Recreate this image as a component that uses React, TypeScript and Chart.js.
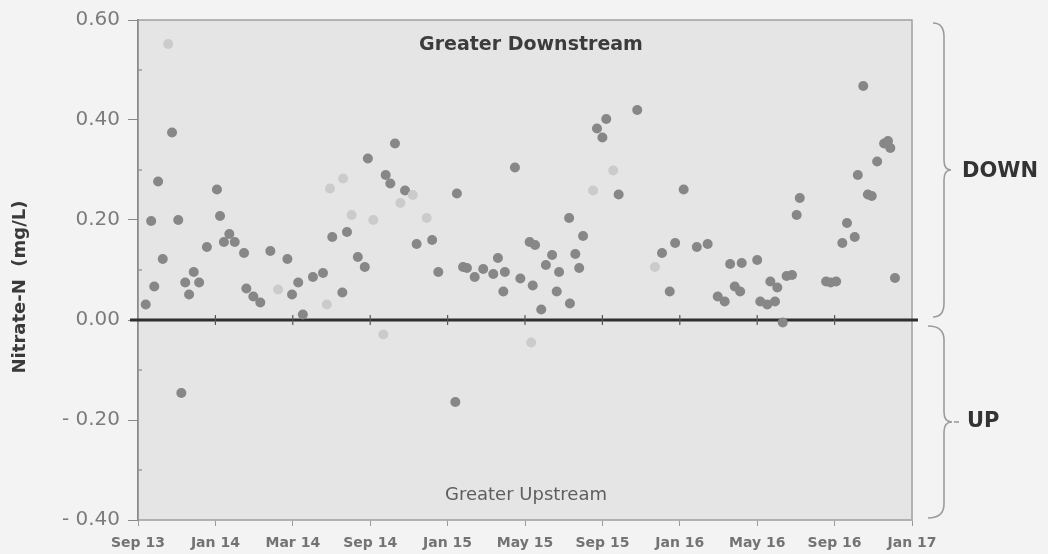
import React, { useEffect, useRef } from "react";
import { Chart, registerables } from "chart.js";

Chart.register(...registerables);

const xTickLabels = ["Sep 13", "Jan 14", "Mar 14", "Sep 14", "Jan 15", "May 15", "Sep 15", "Jan 16", "May 16", "Sep 16", "Jan 17"];

// positions in tick-interval units (0 = Sep 13, 10 = Jan 17)
const darkX = [0.10, 0.17, 0.21, 0.26, 0.32, 0.44, 0.52, 0.56, 0.61, 0.66, 0.72, 0.79, 0.89, 1.02, 1.06, 1.11, 1.18, 1.25, 1.37, 1.40, 1.49, 1.58, 1.71, 1.93, 1.99, 2.07, 2.13, 2.26, 2.39, 2.51, 2.64, 2.70, 2.84, 2.93, 2.97, 3.20, 3.26, 3.32, 3.45, 3.60, 3.80, 3.88, 4.10, 4.12, 4.20, 4.25, 4.35, 4.46, 4.59, 4.65, 4.74, 4.72, 4.87, 4.94, 5.06, 5.13, 5.10, 5.21, 5.27, 5.35, 5.44, 5.41, 5.57, 5.58, 5.65, 5.70, 5.75, 5.93, 6.00, 6.05, 6.21, 6.45, 6.77, 6.87, 6.94, 7.05, 7.22, 7.36, 7.49, 7.58, 7.65, 7.71, 7.78, 7.80, 8.00, 8.04, 8.13, 8.17, 8.23, 8.26, 8.33, 8.38, 8.45, 8.51, 8.55, 8.89, 8.95, 9.02, 9.10, 9.16, 9.26, 9.30, 9.37, 9.43, 9.48, 9.55, 9.64, 9.69, 9.72, 9.78];
const darkY = [0.031, 0.198, 0.067, 0.277, 0.122, 0.375, 0.200, -0.146, 0.075, 0.051, 0.096, 0.075, 0.146, 0.261, 0.208, 0.156, 0.172, 0.156, 0.134, 0.063, 0.047, 0.035, 0.138, 0.122, 0.051, 0.075, 0.011, 0.086, 0.094, 0.166, 0.055, 0.176, 0.126, 0.106, 0.323, 0.290, 0.273, 0.353, 0.259, 0.152, 0.160, 0.096, -0.164, 0.253, 0.106, 0.104, 0.086, 0.102, 0.092, 0.124, 0.096, 0.057, 0.305, 0.083, 0.156, 0.150, 0.069, 0.021, 0.110, 0.130, 0.096, 0.057, 0.204, 0.033, 0.132, 0.104, 0.168, 0.383, 0.365, 0.402, 0.251, 0.420, 0.134, 0.057, 0.154, 0.261, 0.146, 0.152, 0.047, 0.037, 0.112, 0.067, 0.057, 0.114, 0.120, 0.037, 0.031, 0.077, 0.037, 0.065, -0.005, 0.088, 0.090, 0.210, 0.244, 0.077, 0.075, 0.077, 0.154, 0.194, 0.166, 0.290, 0.468, 0.251, 0.248, 0.317, 0.353, 0.358, 0.344, 0.084];

const lightX = [0.39, 1.81, 2.44, 2.48, 2.65, 2.76, 3.04, 3.17, 3.39, 3.55, 3.73, 5.08, 5.88, 6.14, 6.68];
const lightY = [0.552, 0.061, 0.031, 0.263, 0.283, 0.210, 0.200, -0.029, 0.234, 0.250, 0.204, -0.045, 0.259, 0.299, 0.106];

const yTickValues = [0.6, 0.4, 0.2, 0, -0.2, -0.4];

const FONT = "'DejaVu Sans', Verdana, sans-serif";

function drawBrace(ctx: CanvasRenderingContext2D, x0: number, y0: number, y1: number, xm: number, tipX: number) {
  const ymid = (y0 + y1) / 2;
  ctx.beginPath();
  ctx.moveTo(x0, y0);
  ctx.quadraticCurveTo(xm, y0, xm, y0 + 14);
  ctx.lineTo(xm, ymid - 10);
  ctx.quadraticCurveTo(xm, ymid, tipX, ymid);
  ctx.quadraticCurveTo(xm, ymid, xm, ymid + 10);
  ctx.lineTo(xm, y1 - 14);
  ctx.quadraticCurveTo(xm, y1, x0, y1);
  ctx.stroke();
  return ymid;
}

const decorPlugin = {
  id: "decor",
  beforeDraw(chart: any) {
    const { ctx, chartArea: a } = chart;
    ctx.save();
    ctx.fillStyle = "#e5e5e5";
    ctx.fillRect(a.left, a.top, a.right - a.left, a.bottom - a.top);
    ctx.strokeStyle = "#a0a0a0";
    ctx.lineWidth = 1.5;
    ctx.strokeRect(a.left, a.top, a.right - a.left, a.bottom - a.top);
    ctx.restore();
  },
  beforeDatasetsDraw(chart: any) {
    const { ctx, chartArea: a, scales } = chart;
    const y0 = scales.y.getPixelForValue(0);
    ctx.save();
    ctx.strokeStyle = "#2f2f2f";
    ctx.lineWidth = 3;
    ctx.beginPath();
    ctx.moveTo(a.left - 8, y0);
    ctx.lineTo(a.right + 6, y0);
    ctx.stroke();
    // ticks on zero line
    ctx.lineWidth = 1.2;
    ctx.strokeStyle = "#555";
    for (let i = 1; i < xTickLabels.length - 1; i++) {
      const px = scales.x.getPixelForValue(i);
      ctx.beginPath();
      ctx.moveTo(px, y0 - 5);
      ctx.lineTo(px, y0 + 5);
      ctx.stroke();
    }
    // minor y ticks
    ctx.strokeStyle = "#8a8a8a";
    for (const v of [0.5, 0.3, 0.1, -0.1, -0.3]) {
      const py = scales.y.getPixelForValue(v);
      ctx.beginPath();
      ctx.moveTo(a.left, py);
      ctx.lineTo(a.left + 4, py);
      ctx.stroke();
    }
    ctx.restore();
  },
  afterDraw(chart: any) {
    const { ctx, chartArea: a, scales } = chart;
    ctx.save();
    ctx.textAlign = "center";
    ctx.textBaseline = "middle";
    ctx.fillStyle = "#3c3c3c";
    ctx.font = `bold 19px ${FONT}`;
    ctx.fillText("Greater Downstream", 531, 45);
    ctx.fillStyle = "#5e5e5e";
    ctx.font = `18px ${FONT}`;
    ctx.fillText("Greater Upstream", 526, 495);

    ctx.save();
    ctx.translate(20, 287);
    ctx.rotate(-Math.PI / 2);
    ctx.fillStyle = "#3a3a3a";
    ctx.font = `bold 18px ${FONT}`;
    ctx.fillText("Nitrate-N  (mg/L)", 0, 0);
    ctx.restore();

    const yTop = scales.y.getPixelForValue(0.6);
    const yZero = scales.y.getPixelForValue(0);
    const yBot = scales.y.getPixelForValue(-0.4);
    ctx.strokeStyle = "#9c9c9c";
    ctx.lineWidth = 1.6;
    const midDown = drawBrace(ctx, a.right + 21, yTop + 3, yZero - 3, a.right + 32, a.right + 39);
    const midUp = drawBrace(ctx, a.right + 16, yZero + 6, yBot - 2, a.right + 32, a.right + 40);
    ctx.beginPath();
    ctx.moveTo(a.right + 42, midUp);
    ctx.lineTo(a.right + 47, midUp);
    ctx.stroke();

    ctx.fillStyle = "#333";
    ctx.font = `bold 21px ${FONT}`;
    ctx.textAlign = "left";
    ctx.fillText("DOWN", a.right + 50, midDown + 2);
    ctx.fillText("UP", a.right + 55, midUp);
    ctx.restore();
  },
};

export default function App() {
  const canvasRef = useRef<HTMLCanvasElement | null>(null);

  useEffect(() => {
    if (!canvasRef.current) return;
    const chart = new Chart(canvasRef.current, {
      type: "scatter",
      data: {
        datasets: [
          {
            label: "Light",
            data: lightX.map((x, i) => ({ x, y: lightY[i] })),
            backgroundColor: "#cbcbcb",
            borderWidth: 0,
            pointRadius: 5,
          },
          {
            label: "Nitrate-N",
            data: darkX.map((x, i) => ({ x, y: darkY[i] })),
            backgroundColor: "#878787",
            borderWidth: 0,
            pointRadius: 5,
          },
        ],
      },
      options: {
        animation: false,
        responsive: true,
        maintainAspectRatio: false,
        layout: { padding: { left: 0, top: 18, right: 136, bottom: 0 } },
        plugins: { legend: { display: false }, tooltip: { enabled: false } },
        scales: {
          x: {
            type: "linear",
            min: 0,
            max: 10,
            afterFit: (s: any) => { s.height = 34; },
            afterBuildTicks: (s: any) => { s.ticks = xTickLabels.map((_, i) => ({ value: i })); },
            ticks: {
              stepSize: 1,
              autoSkip: false,
              maxRotation: 0,
              padding: 9,
              color: "#737373",
              font: { family: FONT, size: 14, weight: "bold" },
              callback: (v: any) => xTickLabels[Math.round(Number(v))] ?? "",
            },
            grid: { drawOnChartArea: false, tickLength: 6, color: "#9a9a9a" },
            border: { display: true, color: "#b0b0b0", width: 1.5 },
          },
          y: {
            min: -0.4,
            max: 0.6,
            afterFit: (s: any) => { s.width = 138; },
            afterBuildTicks: (s: any) => { s.ticks = yTickValues.map((v) => ({ value: v })); },
            ticks: {
              padding: 8,
              color: "#7c7c7c",
              font: { family: FONT, size: 20 },
              callback: (v: any) => {
                const n = Number(v);
                if (Math.abs(n) < 1e-9) return "0.00";
                return n < 0 ? "- " + Math.abs(n).toFixed(2) : n.toFixed(2);
              },
            },
            grid: { drawOnChartArea: false, tickLength: 10, color: "#8a8a8a" },
            border: { display: true, color: "#8a8a8a", width: 1.5 },
          },
        },
      },
      plugins: [decorPlugin],
    } as any);
    return () => chart.destroy();
  }, []);

  return (
    <div style={{ position: "fixed", left: 0, top: 0, width: 1048, height: 554, background: "#f3f3f3" }}>
      <canvas ref={canvasRef} />
    </div>
  );
}
